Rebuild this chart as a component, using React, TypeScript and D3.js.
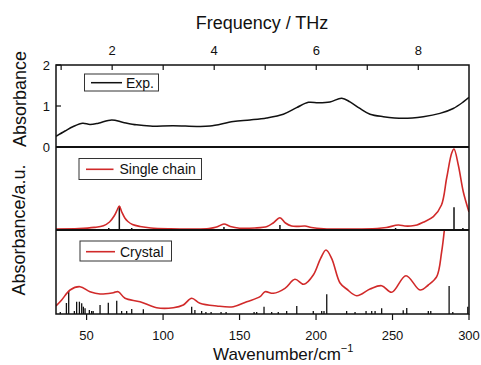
import React from "react";
import * as d3 from "d3";

// ---- Data ----
// Experimental absorbance (wavenumber cm^-1, absorbance)
const expWn = [30, 35.9, 41.3, 47.4, 52.2, 57.7, 66.4, 74, 82.7, 91.5, 106.7, 122, 130.7, 145.9, 156.8, 167.7, 178.6, 187.3, 195, 201.5, 209.1, 216.8, 222.2, 228.7, 235.3, 244, 257, 270.1, 281, 289.7, 296.3, 300];
const expAbs = [0.26, 0.39, 0.5, 0.58, 0.55, 0.58, 0.66, 0.6, 0.54, 0.51, 0.52, 0.5, 0.51, 0.62, 0.66, 0.71, 0.8, 0.96, 1.09, 1.08, 1.1, 1.19, 1.1, 0.94, 0.8, 0.74, 0.7, 0.74, 0.82, 0.94, 1.1, 1.21];

// Single chain calculated spectrum (a.u.)
const singleWn = [30, 45, 55, 61, 65, 68, 70, 71.4, 73, 75, 77, 80, 85, 92, 105, 120, 130, 135, 139.8, 144, 150, 160, 168, 172, 176.4, 180, 184, 188, 192.8, 197, 205, 220, 240, 246, 253.8, 258, 262, 266, 270, 276.7, 282, 285.4, 288.7, 290.2, 293, 296.3, 300];
const singleVal = [1, 1.4, 2.6, 4.3, 8, 14, 20, 24, 18, 12, 8.5, 5.5, 3.5, 2, 1.2, 1, 1.5, 3, 6, 3.5, 1.8, 2, 3.5, 7, 12.3, 7, 4, 3.6, 4, 2.5, 1.3, 1, 1.5, 2.5, 5, 4, 4, 5, 7.7, 13.3, 25, 52, 77, 81, 65, 38, 18];
const singleStickWn = [64.5, 71.4, 79.5, 139.8, 176.4, 252, 290.2, 296];
const singleStickVal = [2, 24, 2, 3, 5, 2, 22.7, 2];

// Crystal calculated spectrum (a.u.)
const crystalWn = [30, 33.7, 39.2, 45.7, 52.2, 58.8, 67.5, 70.7, 75.1, 84.9, 95.8, 106.7, 113.2, 118.7, 124.1, 135.1, 145.9, 154.7, 163.4, 166.6, 172.1, 179.7, 186.2, 192.1, 198.2, 203, 206.5, 210.2, 215.7, 220, 226.6, 235.3, 242.9, 249.5, 258.8, 268, 273.4, 278.9, 282.1, 284.3, 287, 290, 295, 300];
const crystalVal = [8, 14, 24, 27.3, 22.3, 20, 21.3, 22.3, 15.7, 12.3, 6.3, 6.3, 9, 15.7, 10.7, 8, 7.3, 12.3, 17.3, 22.3, 20.7, 25.7, 34.7, 29.7, 39, 55.7, 64, 55.7, 31, 25, 18.3, 25, 28.3, 21.7, 38.3, 24, 29, 37.3, 62, 90, 140, 190, 150, 110];
const crystalStickWn = [32.8, 36.8, 38.3, 42, 43.5, 45.3, 46.8, 47.9, 49, 51.8, 53.3, 54.3, 58.8, 64.2, 69.7, 72.9, 76.2, 79.5, 87.1, 118.7, 120.8, 125.2, 128, 131.4, 137.9, 141.2, 159.5, 161.2, 166, 171, 175.3, 180.8, 187.4, 198.2, 203.7, 205.2, 207, 220, 225.5, 232.7, 236.4, 238.6, 242.9, 257, 259.3, 273.4, 275, 287, 289.4, 299.2];
const crystalStickVal = [2, 11, 23, 3, 12.3, 12.3, 10.7, 7.3, 5.7, 4, 3, 3, 9, 11.3, 13.3, 3, 3, 5, 4.7, 7.3, 4, 3, 2, 2, 2, 2, 2, 2, 7.3, 2, 2, 3, 8, 3, 3, 3, 19.7, 3, 2, 3, 3, 3, 5.7, 3.7, 6, 3, 3, 28, 2, 7.3];

// Ticks
const bottomTicks = [50, 100, 150, 200, 250, 300];
const topTicks = [1, 2, 3, 4, 5, 6, 7, 8];
const topLabels = [2, 4, 6, 8];
const expTicks = [0, 1, 2];

const CM_PER_THZ = 33.356;
const RED = "#d12a2a";
const FONT = "'Liberation Sans', Arial, sans-serif";

export default function App() {
  const W = 481, H = 365;
  const left = 56, right = 469;
  const p1Top = 65, p1Bot = 147, p2Bot = 230, p3Bot = 314;

  const x = d3.scaleLinear().domain([30, 300]).range([left, right]);
  const xT = d3.scaleLinear().domain([30 / CM_PER_THZ, 300 / CM_PER_THZ]).range([left, right]);
  const y1 = d3.scaleLinear().domain([0, 2]).range([p1Bot, p1Top]);
  const y2 = d3.scaleLinear().domain([0, 83]).range([p2Bot, p1Bot]);
  const y3 = d3.scaleLinear().domain([0, 84]).range([p3Bot, p2Bot]);

  const curve = d3.curveCatmullRom.alpha(0.5);
  const expLine = d3.line<number>().x((_, i) => x(expWn[i])).y((v) => y1(v)).curve(curve)(expAbs) || "";
  const singleLine = d3.line<number>().x((_, i) => x(singleWn[i])).y((v) => y2(v)).curve(curve)(singleVal) || "";
  const crystalLine = d3.line<number>().x((_, i) => x(crystalWn[i])).y((v) => y3(v)).curve(curve)(crystalVal) || "";

  const textStyle: React.CSSProperties = { fontFamily: FONT, fill: "#111" };

  return (
    <svg width={W} height={H} style={{ position: "absolute", left: 0, top: 0, background: "#fff" }}>
      <defs>
        <clipPath id="c1"><rect x={left} y={p1Top} width={right - left} height={p1Bot - p1Top} /></clipPath>
        <clipPath id="c2"><rect x={left} y={p1Bot} width={right - left} height={p2Bot - p1Bot} /></clipPath>
        <clipPath id="c3"><rect x={left} y={p2Bot} width={right - left} height={p3Bot - p2Bot} /></clipPath>
      </defs>
      <rect x={0} y={0} width={W} height={H} fill="#fff" />

      {/* Curves */}
      <path d={expLine} fill="none" stroke="#111" strokeWidth={1.5} clipPath="url(#c1)" />
      <g clipPath="url(#c2)">
        {singleStickWn.map((w, i) => (
          <line key={i} x1={x(w)} x2={x(w)} y1={y2(0)} y2={y2(singleStickVal[i])} stroke="#111" strokeWidth={1.5} />
        ))}
        <path d={singleLine} fill="none" stroke={RED} strokeWidth={1.6} />
      </g>
      <g clipPath="url(#c3)">
        {crystalStickWn.map((w, i) => (
          <line key={i} x1={x(w)} x2={x(w)} y1={y3(0)} y2={y3(crystalStickVal[i])} stroke="#111" strokeWidth={1.3} />
        ))}
        <path d={crystalLine} fill="none" stroke={RED} strokeWidth={1.6} />
      </g>

      {/* Frames */}
      <rect x={left} y={p1Top} width={right - left} height={p3Bot - p1Top} fill="none" stroke="#111" strokeWidth={1.5} />
      <line x1={left} x2={right} y1={p1Bot} y2={p1Bot} stroke="#111" strokeWidth={1.8} />
      <line x1={left} x2={right} y1={p2Bot} y2={p2Bot} stroke="#111" strokeWidth={1.8} />

      {/* Top axis (THz) */}
      {topTicks.map((t) => (
        <line key={t} x1={xT(t)} x2={xT(t)} y1={p1Top} y2={p1Top + 5} stroke="#111" strokeWidth={1.2} />
      ))}
      {topLabels.map((t) => (
        <text key={t} x={xT(t)} y={55} textAnchor="middle" fontSize={13} style={textStyle}>{t}</text>
      ))}
      <text x={262} y={29} textAnchor="middle" fontSize={18} style={textStyle}>Frequency / THz</text>

      {/* Left axis for experimental panel */}
      {expTicks.map((t) => (
        <g key={t}>
          <line x1={left} x2={left + 5} y1={y1(t)} y2={y1(t)} stroke="#111" strokeWidth={1.2} />
          <text x={50} y={y1(t) + 4.5} textAnchor="end" fontSize={13} style={textStyle}>{t}</text>
        </g>
      ))}
      <text transform={`translate(26, ${99}) rotate(-90)`} textAnchor="middle" fontSize={18} style={textStyle}>Absorbance</text>
      <text transform={`translate(25, ${230}) rotate(-90)`} textAnchor="middle" fontSize={18} style={textStyle}>Absorbance/a.u.</text>

      {/* Bottom axis */}
      {bottomTicks.map((t) => (
        <g key={t}>
          <line x1={x(t)} x2={x(t)} y1={p3Bot} y2={p3Bot + 6} stroke="#111" strokeWidth={1.2} />
          <text x={x(t)} y={340} textAnchor="middle" fontSize={13} style={textStyle}>{t}</text>
        </g>
      ))}
      <text x={213} y={360} fontSize={17} style={textStyle}>
        Wavenumber/cm<tspan fontSize={11} dy={-8}>−1</tspan>
      </text>

      {/* Legends */}
      <rect x={84.5} y={74} width={74} height={17} fill="#fff" stroke="#333" strokeWidth={1} />
      <line x1={91} x2={122} y1={82.7} y2={82.7} stroke="#111" strokeWidth={1.5} />
      <text x={126} y={87.5} fontSize={14} style={textStyle}>Exp.</text>

      <rect x={79} y={158.5} width={122.5} height={21} fill="#fff" stroke="#333" strokeWidth={1} />
      <line x1={86} x2={113.5} y1={169.3} y2={169.3} stroke={RED} strokeWidth={1.6} />
      <text x={119.5} y={174} fontSize={14} style={textStyle}>Single chain</text>

      <rect x={80} y={241} width={91.5} height={20} fill="#fff" stroke="#333" strokeWidth={1} />
      <line x1={86} x2={115} y1={251.7} y2={251.7} stroke={RED} strokeWidth={1.6} />
      <text x={120} y={256.5} fontSize={14} style={textStyle}>Crystal</text>
    </svg>
  );
}
